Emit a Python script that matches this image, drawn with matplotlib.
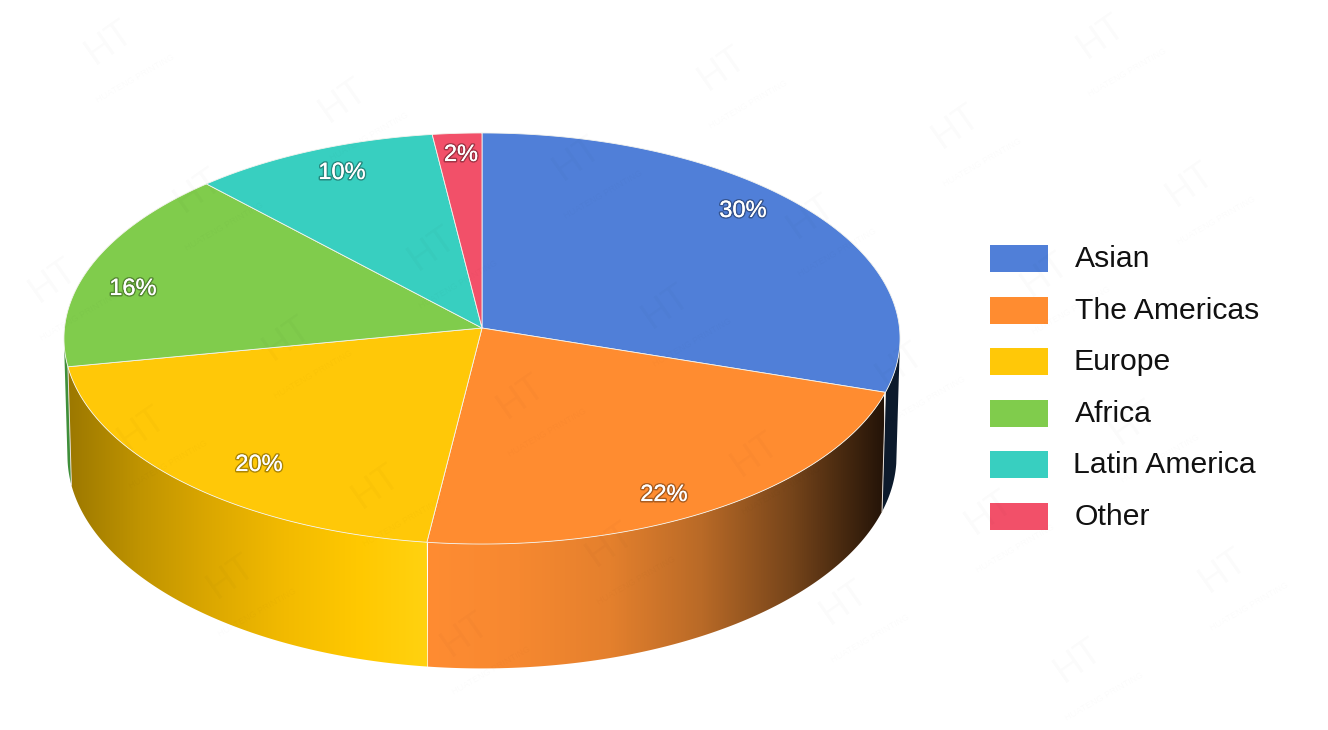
#!/usr/bin/env python3
import numpy as np
from matplotlib import pyplot as plt
from matplotlib import patheffects as pe
from matplotlib.colors import LinearSegmentedColormap
from matplotlib.patches import Polygon, Rectangle

labels = ['Asian', 'The Americas', 'Europe', 'Africa', 'Latin America', 'Other']
values = [30, 22, 20, 16, 10, 2]
colors = ['#507fd8', '#ff8c30', '#ffc808', '#80cc4c', '#38cfc0', '#f25069']

# side shading left to right
orange_side = ['#ff8c32', '#f68830', '#e4802d', '#b96a27', '#75441a', '#241408']
yellow_side = ['#9c7800', '#c09400', '#dca800', '#f2ba00', '#ffc800', '#ffd210']
blue_side = '#0c1a2c'
green_side = '#3f8f3a'

# top disc and bottom disc, image pixels
cx = 482
k = 0.0511
top_y, top_a, top_b = 328, 417.5, 205
bot_y, bot_a, bot_b = 445, 414, 212

legend_y = [245, 297, 348, 400, 451, 503]
legend_x = [1075, 1075, 1074, 1075, 1073, 1075]
label_pos = [(743, 211), (664, 495), (259, 465), (133, 289), (342, 173), (461, 155)]

plt.rcParams['font.family'] = ['Liberation Sans', 'DejaVu Sans']


def project(theta, y0, a, b):
    # clockwise from 12 o'clock, with a little perspective
    u = np.sin(theta)
    v = np.cos(theta)
    d = 1 + k * v
    return cx + a * u / d, y0 - b * v / d


def arc(t0, t1, y0, a, b):
    t = np.linspace(t0, t1, 200)
    return np.column_stack(project(t, y0, a, b))


def side(t0, t1):
    return np.vstack([arc(t0, t1, top_y, top_a, top_b), arc(t1, t0, bot_y, bot_a, bot_b)])


fig = plt.figure(figsize=(13.28, 7.3), dpi=100)
ax = fig.add_axes([0, 0, 1, 1])
ax.set_xlim(0, 1328)
ax.set_ylim(730, 0)
ax.axis('off')

edges = np.cumsum([0] + values) / sum(values) * 2 * np.pi

# sides first, the top goes over them
grad = np.linspace(0, 1, 512).reshape(1, -1)
for t0, t1, cols, x0, x1 in [(edges[1], edges[2], orange_side, 428, 884),
                             (edges[2], edges[3], yellow_side, 68, 428)]:
    poly = Polygon(side(t0, t1), closed=True, fc='none', ec='none', transform=ax.transData)
    ax.add_patch(poly)
    im = ax.imshow(grad, extent=[x0, x1, 680, 300], aspect='auto', zorder=2,
                   cmap=LinearSegmentedColormap.from_list('s', cols))
    im.set_clip_path(poly)
ax.set_xlim(0, 1328)
ax.set_ylim(730, 0)

ax.add_patch(Polygon(side(np.radians(95), edges[1]), fc=blue_side, ec='none', zorder=1.5))
ax.add_patch(Polygon(side(edges[3], np.radians(266)), fc=green_side, ec='none', zorder=1.5))

# thin light seams on the side walls
for t in [edges[1], edges[3]]:
    x, y = project(t, top_y, top_a, top_b)
    x2, y2 = project(t, bot_y, bot_a, bot_b)
    ax.plot([x, x2], [y, y2], color='#e8e0d8', lw=0.7, zorder=3)

# top of the pie
for t0, t1, c in zip(edges[:-1], edges[1:], colors):
    pts = np.vstack([[cx, top_y], arc(t0, t1, top_y, top_a, top_b)])
    ax.add_patch(Polygon(pts, fc=c, ec='#f4f4ee', lw=0.6, joinstyle='round', zorder=4))

shadow = [pe.withStroke(linewidth=2.2, foreground='#00000055'), pe.Normal()]
for v, (x, y) in zip(values, label_pos):
    ax.text(x, y, '%d%%' % v, color='white', fontsize=17, ha='center', va='center',
            path_effects=shadow, zorder=6)

for name, c, y, x in zip(labels, colors, legend_y, legend_x):
    ax.add_patch(Rectangle((990, y), 58, 27, fc=c, ec='none', zorder=5))
    ax.text(x, y + 14, name, color='#111111', fontsize=21.7, ha='left', va='center', zorder=6)

# faint watermark over everything, only where it fits on the canvas
for i in range(-4, 9):
    for j in range(-4, 9):
        x = 110 + i * 234 + j * 145
        y = 42 + i * 58 - j * 90
        if 45 < x < 1240 and 30 < y < 680:
            ax.text(x, y, 'HT', fontsize=27, color='black', alpha=0.02, rotation=35,
                    ha='center', va='center', zorder=7)
            ax.text(x + 25, y + 37, 'HUATENG PRINTING', fontsize=6.5, color='black', alpha=0.02,
                    rotation=30, ha='center', va='center', zorder=7)

fig.savefig('out.png', dpi=100)
